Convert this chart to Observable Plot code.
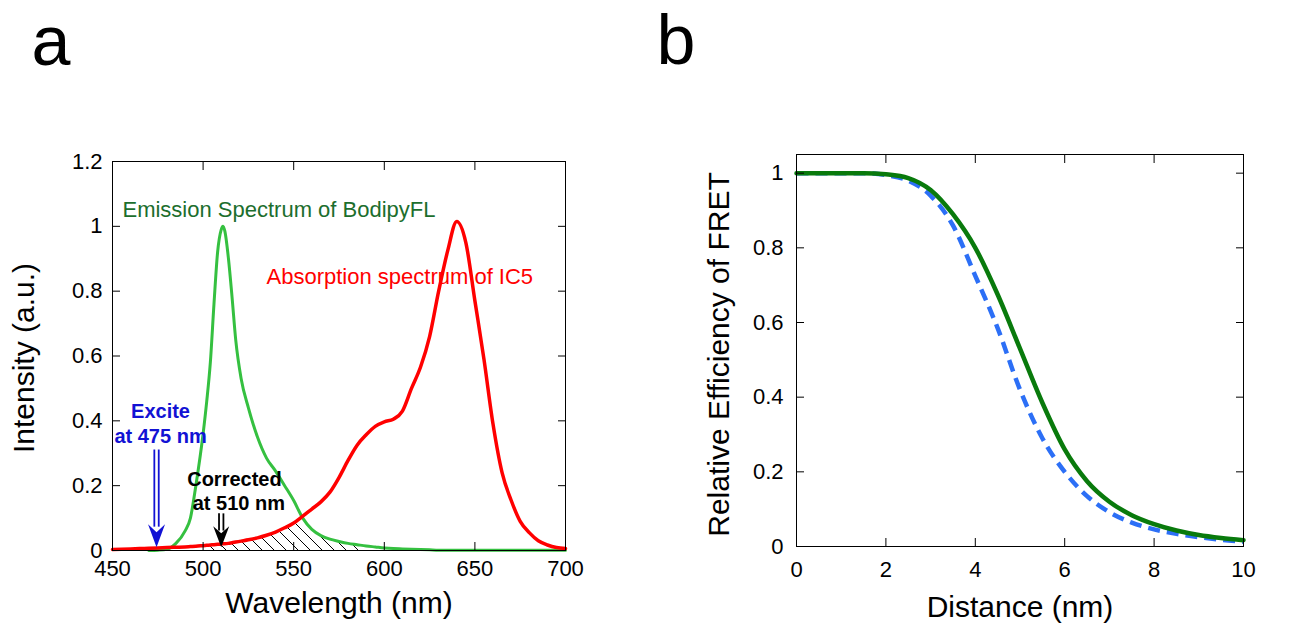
<!DOCTYPE html>
<html><head><meta charset="utf-8">
<script src="https://cdn.jsdelivr.net/npm/d3@7"></script>
<script src="https://cdn.jsdelivr.net/npm/@observablehq/plot@0.6"></script>
<style>
body{margin:0;background:#fff;}
#wrap{position:relative;width:1289px;height:625px;overflow:hidden;background:#fff;}
#pa{position:absolute;left:0;top:0;}
#pb{position:absolute;left:640px;top:0;}
</style></head><body><div id="wrap"><div id="pa"></div><div id="pb"></div></div>
<script>
// ---------- Panel a data ----------
const wavelength = [450,455,460,465,470,475,480,485,490,493,496,500,502,504,506,508,510,511,512,514,516,518,521,525,530,535,540,545,550,555,560,565,570,575,580,585,590,595,600,605,610,615,620,625,630,635,640,645,650,655,660,665,670,675,680,685,690,695,700];
const emissionBodipyFL = [null,null,null,null,0,0.001,0.004,0.022,0.06,0.1,0.2,0.36,0.46,0.58,0.76,0.92,0.99,1.0,0.985,0.9,0.78,0.65,0.53,0.44,0.35,0.285,0.245,0.2,0.154,0.1,0.065,0.046,0.035,0.028,0.022,0.018,0.014,0.011,0.008,0.006,0.005,0.004,0.003,0.002,0.001,0.001,0.001,0.001,0.001,0.001,0.001,0.001,0.001,0.001,0.001,0.001,0.001,0.001,0.001];
const absorptionIC5 = [0.003,0.004,0.005,0.006,0.007,0.008,0.009,0.010,0.011,0.012,0.013,0.015,0.016,0.017,0.018,0.019,0.020,0.021,0.021,0.022,0.024,0.026,0.029,0.033,0.039,0.047,0.057,0.07,0.085,0.106,0.128,0.15,0.18,0.225,0.278,0.325,0.357,0.383,0.397,0.405,0.43,0.5,0.566,0.66,0.8,0.925,1.015,0.95,0.77,0.59,0.39,0.24,0.155,0.09,0.055,0.03,0.017,0.009,0.006];
const xTicksA = [450,500,550,600,650,700];
const yTicksA = [0,0.2,0.4,0.6,0.8,1,1.2];
const overlapRange = [503, 592];

// annotations (panel a)
const labelTexts = ["Emission Spectrum of BodipyFL","Absorption spectrum of IC5"];
const labelX = [455.5, 535];
const labelY = [1.049, 0.843];
const exciteLines = ["Excite","at 475 nm"];
const exciteX = [476.5, 476.5];
const exciteY = [0.427, 0.35];
const correctedLines = ["Corrected","at 510 nm"];
const correctedX = [517.3, 519.7];
const correctedY = [0.218, 0.144];
const arrowExcite = {x: 474.3, top: 0.31, tip: 0.01, headTop: 0.072};
const arrowCorrected = {x: 510, top: 0.113, tip: 0.01, headTop: 0.06};

// ---------- Panel b data ----------
const distance = [0,0.5,1,1.5,2,2.5,3,3.5,4,4.5,5,5.5,6,6.5,7,7.5,8,8.5,9,9.5,10];
const fretSolid = [1,1,1,1,0.997,0.987,0.955,0.89,0.8,0.675,0.53,0.385,0.26,0.175,0.12,0.084,0.06,0.043,0.031,0.023,0.017];
const fretDashed = [1,1,1,1,0.995,0.98,0.94,0.86,0.725,0.585,0.42,0.29,0.2,0.135,0.092,0.064,0.046,0.034,0.025,0.018,0.013];
const xTicksB = [0,2,4,6,8,10];
const yTicksB = [0,0.2,0.4,0.6,0.8,1];

const FONT = "'Liberation Sans', Arial, Helvetica, sans-serif";
const fmt = d => String(d);

// ---------- Panel a ----------
const rowsA = wavelength.map((w, i) => ({w, g: emissionBodipyFL[i], r: absorptionIC5[i]}));
const overlap = rowsA.filter(d => d.w >= overlapRange[0] && d.w <= overlapRange[1] && d.g != null)
  .map(d => ({w: d.w, v: Math.min(d.g, d.r)}));
const labelsA = labelTexts.map((t, i) => ({t, x: labelX[i], y: labelY[i]}));
const exciteA = exciteLines.map((t, i) => ({t, x: exciteX[i], y: exciteY[i]}));
const corrA = correctedLines.map((t, i) => ({t, x: correctedX[i], y: correctedY[i]}));

function headSymbol(halfW, len, notch) {
  return {draw(ctx) {
    ctx.moveTo(0, 0);
    ctx.lineTo(-halfW, -len);
    ctx.lineTo(0, -notch);
    ctx.lineTo(halfW, -len);
    ctx.closePath();
  }};
}
function arrowMarks(a, color, halfW, len, notch) {
  return [
    Plot.ruleX([a], {x: "x", y1: "top", y2: "headTop", stroke: color, strokeWidth: 1.8, dx: -2.2}),
    Plot.ruleX([a], {x: "x", y1: "top", y2: "headTop", stroke: color, strokeWidth: 1.8, dx: 2.2}),
    Plot.dot([a], {x: "x", y: "tip", symbol: headSymbol(halfW, len, notch), fill: color, stroke: "none"})
  ];
}

const plotA = Plot.plot({
  width: 640, height: 625,
  marginLeft: 112, marginRight: 75, marginTop: 161, marginBottom: 75,
  style: {fontFamily: FONT, fontSize: "22px", color: "#000", background: "transparent", overflow: "visible"},
  x: {domain: [450, 700]},
  y: {domain: [0, 1.2]},
  marks: [
    Plot.areaY(overlap, {x: "w", y: "v", fill: "url(#hatchA)", curve: "monotone-x"}),
    Plot.line(rowsA.filter(d => d.g != null), {x: "w", y: "g", stroke: "#35c040", strokeWidth: 3, curve: "monotone-x"}),
    Plot.line(rowsA, {x: "w", y: "r", stroke: "#ff0000", strokeWidth: 3.5, curve: "monotone-x"}),
    ...arrowMarks(arrowExcite, "#1212d4", 8.5, 23, 15),
    ...arrowMarks(arrowCorrected, "#000", 8, 21, 14),
    Plot.text(labelsA.slice(0, 1), {x: "x", y: "y", text: "t", textAnchor: "start", fill: "#1c6e2d", fontSize: 22}),
    Plot.text(labelsA.slice(1), {x: "x", y: "y", text: "t", textAnchor: "start", fill: "#ff0000", fontSize: 22}),
    Plot.text(exciteA, {x: "x", y: "y", text: "t", fill: "#1212d4", fontSize: 20, fontWeight: "bold"}),
    Plot.text(corrA, {x: "x", y: "y", text: "t", fill: "#000", fontSize: 20, fontWeight: "bold"}),
    Plot.axisX({ticks: xTicksA, anchor: "bottom", tickSize: -8, tickPadding: 17.6, fontSize: 22, label: null, tickFormat: fmt}),
    Plot.axisX({ticks: xTicksA, anchor: "top", tickSize: -8, label: null, tickFormat: () => ""}),
    Plot.axisY({ticks: yTicksA, anchor: "left", tickSize: -8, tickPadding: 18, fontSize: 22, label: null, tickFormat: fmt}),
    Plot.axisY({ticks: yTicksA, anchor: "right", tickSize: -8, label: null, tickFormat: () => ""}),
    Plot.frame({stroke: "#000", strokeWidth: 1}),
    Plot.text(["Wavelength (nm)"], {text: d => d, frameAnchor: "bottom", lineAnchor: "middle", textAnchor: "middle", dy: 53, fontSize: 30}),
    Plot.text(["Intensity (a.u.)"], {text: d => d, frameAnchor: "left", lineAnchor: "middle", textAnchor: "middle", dx: -88, dy: 2, rotate: -90, fontSize: 30}),
    Plot.text(["a"], {text: d => d, frameAnchor: "top-left", dx: -81, dy: -97, fontSize: 70, textAnchor: "start", lineAnchor: "bottom"})
  ]
});
{
  const ns = "http://www.w3.org/2000/svg";
  const defs = document.createElementNS(ns, "defs");
  const pat = document.createElementNS(ns, "pattern");
  pat.setAttribute("id", "hatchA");
  pat.setAttribute("patternUnits", "userSpaceOnUse");
  pat.setAttribute("width", "12");
  pat.setAttribute("height", "12");
  const p = document.createElementNS(ns, "path");
  p.setAttribute("d", "M0,0L12,12M-3,9L3,15M9,-3L15,3");
  p.setAttribute("stroke", "#000");
  p.setAttribute("stroke-width", "1");
  pat.appendChild(p);
  defs.appendChild(pat);
  plotA.insertBefore(defs, plotA.firstChild);
}
document.getElementById("pa").appendChild(plotA);

// ---------- Panel b ----------
const rowsB = distance.map((d, i) => ({d, s: fretSolid[i], b: fretDashed[i]}));
const plotB = Plot.plot({
  width: 649, height: 625,
  marginLeft: 156, marginRight: 46, marginTop: 154, marginBottom: 79,
  style: {fontFamily: FONT, fontSize: "22px", color: "#000", background: "transparent", overflow: "visible"},
  x: {domain: [0, 10]},
  y: {domain: [0, 1.05]},
  marks: [
    Plot.line(rowsB, {x: "d", y: "b", stroke: "#2c6ff6", strokeWidth: 4.5, strokeDasharray: "12,7", strokeLinecap: "butt", curve: "monotone-x"}),
    Plot.line(rowsB, {x: "d", y: "s", stroke: "#097a0c", strokeWidth: 4.5, curve: "monotone-x"}),
    Plot.axisX({ticks: xTicksB, anchor: "bottom", tickSize: -8, tickPadding: 23, fontSize: 22, label: null, tickFormat: fmt}),
    Plot.axisX({ticks: xTicksB, anchor: "top", tickSize: -8, label: null, tickFormat: () => ""}),
    Plot.axisY({ticks: yTicksB, anchor: "left", tickSize: -8, tickPadding: 21, fontSize: 22, label: null, tickFormat: fmt}),
    Plot.axisY({ticks: yTicksB, anchor: "right", tickSize: -8, label: null, tickFormat: () => ""}),
    Plot.frame({stroke: "#000", strokeWidth: 1}),
    Plot.text(["Distance (nm)"], {text: d => d, frameAnchor: "bottom", lineAnchor: "middle", textAnchor: "middle", dy: 61, fontSize: 30}),
    Plot.text(["Relative Efficiency of FRET"], {text: d => d, frameAnchor: "left", lineAnchor: "middle", textAnchor: "middle", dx: -77, dy: 4, rotate: -90, fontSize: 30}),
    Plot.text(["b"], {text: d => d, frameAnchor: "top-left", dx: -140, dy: -91, fontSize: 70, textAnchor: "start", lineAnchor: "bottom"})
  ]
});
document.getElementById("pb").appendChild(plotB);
</script>
</body></html>
